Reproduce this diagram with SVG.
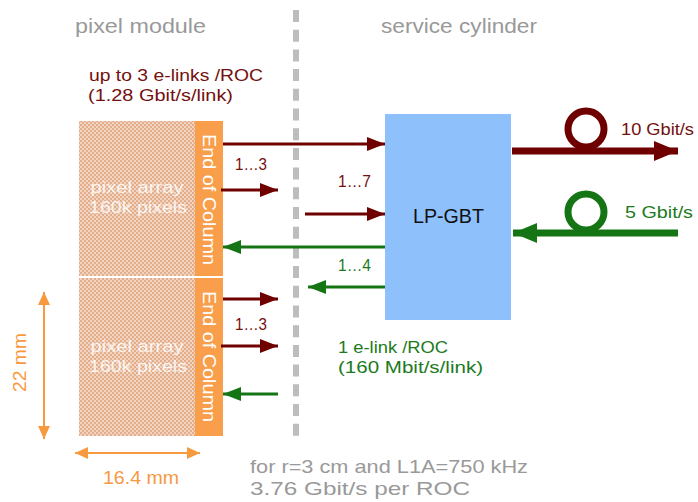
<svg xmlns="http://www.w3.org/2000/svg" width="698" height="502" viewBox="0 0 698 502">
<defs>
<style>
text{font-family:"Liberation Sans","Arimo",Arial,sans-serif}
.gray{fill:#999}
.red{fill:#741010}
.green{fill:#1c7a1c}
.wt{fill:#fff;fill-opacity:0.85;font-size:17px;text-anchor:middle}
.eoc{fill:#fff;font-size:18px}
.rl{stroke:#6e0000;stroke-width:3;fill:none}
.gl{stroke:#157515;stroke-width:3;fill:none}
.rt{stroke:#6e0000;stroke-width:7;fill:none}
.gt{stroke:#157515;stroke-width:7;fill:none}
.dim{stroke:#f7993f;stroke-width:2;fill:none}
</style>
<pattern id="chk" width="4" height="4" patternUnits="userSpaceOnUse">
<rect width="4" height="4" fill="#f2d4c1"/>
<rect width="2" height="2" fill="#e2ad8b"/>
<rect x="2" y="2" width="2" height="2" fill="#e2ad8b"/>
</pattern>
<marker id="ar" markerWidth="18" markerHeight="14" refX="18" refY="7" orient="auto" markerUnits="userSpaceOnUse"><path d="M0,0 L18,7 L0,14 Z" fill="#6e0000"/></marker>
<marker id="ag" markerWidth="18" markerHeight="14" refX="18" refY="7" orient="auto" markerUnits="userSpaceOnUse"><path d="M0,0 L18,7 L0,14 Z" fill="#157515"/></marker>
<marker id="art" markerWidth="24" markerHeight="20" refX="24" refY="10" orient="auto" markerUnits="userSpaceOnUse"><path d="M0,0 L24,10 L0,20 Z" fill="#6e0000"/></marker>
<marker id="agt" markerWidth="24" markerHeight="20" refX="24" refY="10" orient="auto" markerUnits="userSpaceOnUse"><path d="M0,0 L24,10 L0,20 Z" fill="#157515"/></marker>
<marker id="ao" markerWidth="13" markerHeight="12" refX="13" refY="6" orient="auto-start-reverse" markerUnits="userSpaceOnUse"><path d="M0,0 L13,6 L0,12 Z" fill="#f7993f"/></marker>
</defs>
<rect width="698" height="502" fill="#fff"/>

<line x1="296" y1="10" x2="296" y2="438" stroke="#bdbdbd" stroke-width="6" stroke-dasharray="12 7.7"/>

<text x="75" y="33" class="gray" font-size="21" textLength="131" lengthAdjust="spacingAndGlyphs">pixel module</text>
<text x="381" y="33" class="gray" font-size="21" textLength="156" lengthAdjust="spacingAndGlyphs">service cylinder</text>
<text x="89" y="81" class="red" font-size="17" textLength="174" lengthAdjust="spacingAndGlyphs">up to 3 e-links /ROC</text>
<text x="88" y="101" class="red" font-size="17" textLength="145" lengthAdjust="spacingAndGlyphs">(1.28 Gbit/s/link)</text>

<g id="pixel-array-top">
<rect x="79" y="121" width="116" height="155" fill="url(#chk)"/>
<text x="137" y="193" class="wt" textLength="93" lengthAdjust="spacingAndGlyphs">pixel array</text>
<text x="138" y="213" class="wt" textLength="98" lengthAdjust="spacingAndGlyphs">160k pixels</text>
</g>
<g id="eoc-top">
<rect x="195" y="121" width="28" height="155" fill="#f99e4a"/>
<text class="eoc" transform="translate(203,134) rotate(90)" textLength="131" lengthAdjust="spacingAndGlyphs">End of Column</text>
</g>
<g id="pixel-array-bottom">
<rect x="79" y="278" width="116" height="158" fill="url(#chk)"/>
<text x="137" y="352" class="wt" textLength="93" lengthAdjust="spacingAndGlyphs">pixel array</text>
<text x="138" y="372" class="wt" textLength="98" lengthAdjust="spacingAndGlyphs">160k pixels</text>
</g>
<g id="eoc-bottom">
<rect x="195" y="278" width="28" height="158" fill="#f99e4a"/>
<text class="eoc" transform="translate(203,291) rotate(90)" textLength="131" lengthAdjust="spacingAndGlyphs">End of Column</text>
</g>
<g id="lpgbt">
<rect x="385" y="114" width="126" height="206" fill="#8ec0fc"/>
<text x="413" y="223" font-size="21" fill="#111" textLength="71" lengthAdjust="spacingAndGlyphs">LP-GBT</text>
</g>

<g id="connectors">
<line class="rl" x1="223" y1="144" x2="385" y2="144" marker-end="url(#ar)"/>
<line class="rl" x1="221" y1="190" x2="278" y2="190" marker-end="url(#ar)"/>
<line class="rl" x1="305" y1="214" x2="385" y2="214" marker-end="url(#ar)"/>
<line class="gl" x1="385" y1="247" x2="223" y2="247" marker-end="url(#ag)"/>
<line class="gl" x1="385" y1="287" x2="308" y2="287" marker-end="url(#ag)"/>
<line class="rl" x1="223" y1="299" x2="278" y2="299" marker-end="url(#ar)"/>
<line class="rl" x1="221" y1="346" x2="278" y2="346" marker-end="url(#ar)"/>
<line class="gl" x1="278" y1="394" x2="223" y2="394" marker-end="url(#ag)"/>
<line class="rt" x1="512" y1="151" x2="678" y2="151" marker-end="url(#art)"/>
<circle class="rt" cx="586" cy="129" r="18"/>
<line class="gt" x1="678" y1="233" x2="513" y2="233" marker-end="url(#agt)"/>
<circle class="gt" cx="586" cy="212" r="18"/>
</g>

<text x="235" y="170" class="red" font-size="17" textLength="32" lengthAdjust="spacingAndGlyphs">1…3</text>
<text x="338" y="187" class="red" font-size="17" textLength="33" lengthAdjust="spacingAndGlyphs">1…7</text>
<text x="338" y="271" class="green" font-size="17" textLength="33" lengthAdjust="spacingAndGlyphs">1…4</text>
<text x="235" y="330" class="red" font-size="17" textLength="32" lengthAdjust="spacingAndGlyphs">1…3</text>
<text x="621" y="135" class="red" font-size="17" textLength="73" lengthAdjust="spacingAndGlyphs">10 Gbit/s</text>
<text x="625" y="218" class="green" font-size="17" textLength="68" lengthAdjust="spacingAndGlyphs">5 Gbit/s</text>
<text x="338" y="353" class="green" font-size="17" textLength="110" lengthAdjust="spacingAndGlyphs">1 e-link /ROC</text>
<text x="338" y="373" class="green" font-size="17" textLength="145" lengthAdjust="spacingAndGlyphs">(160 Mbit/s/link)</text>

<g id="dimensions">
<line class="dim" x1="44" y1="292" x2="44" y2="439" marker-start="url(#ao)" marker-end="url(#ao)"/>
<line class="dim" x1="75" y1="453" x2="200" y2="453" marker-start="url(#ao)" marker-end="url(#ao)"/>
<text transform="translate(26,392) rotate(-90)" font-size="18.5" fill="#f7993f" textLength="59" lengthAdjust="spacingAndGlyphs">22 mm</text>
<text x="103" y="484" font-size="19" fill="#f7993f" textLength="76" lengthAdjust="spacingAndGlyphs">16.4 mm</text>
</g>

<text x="250" y="473" class="gray" font-size="19" textLength="278" lengthAdjust="spacingAndGlyphs">for r=3 cm and L1A=750 kHz</text>
<text x="250" y="495" class="gray" font-size="19" textLength="220" lengthAdjust="spacingAndGlyphs">3.76 Gbit/s per ROC</text>
</svg>
